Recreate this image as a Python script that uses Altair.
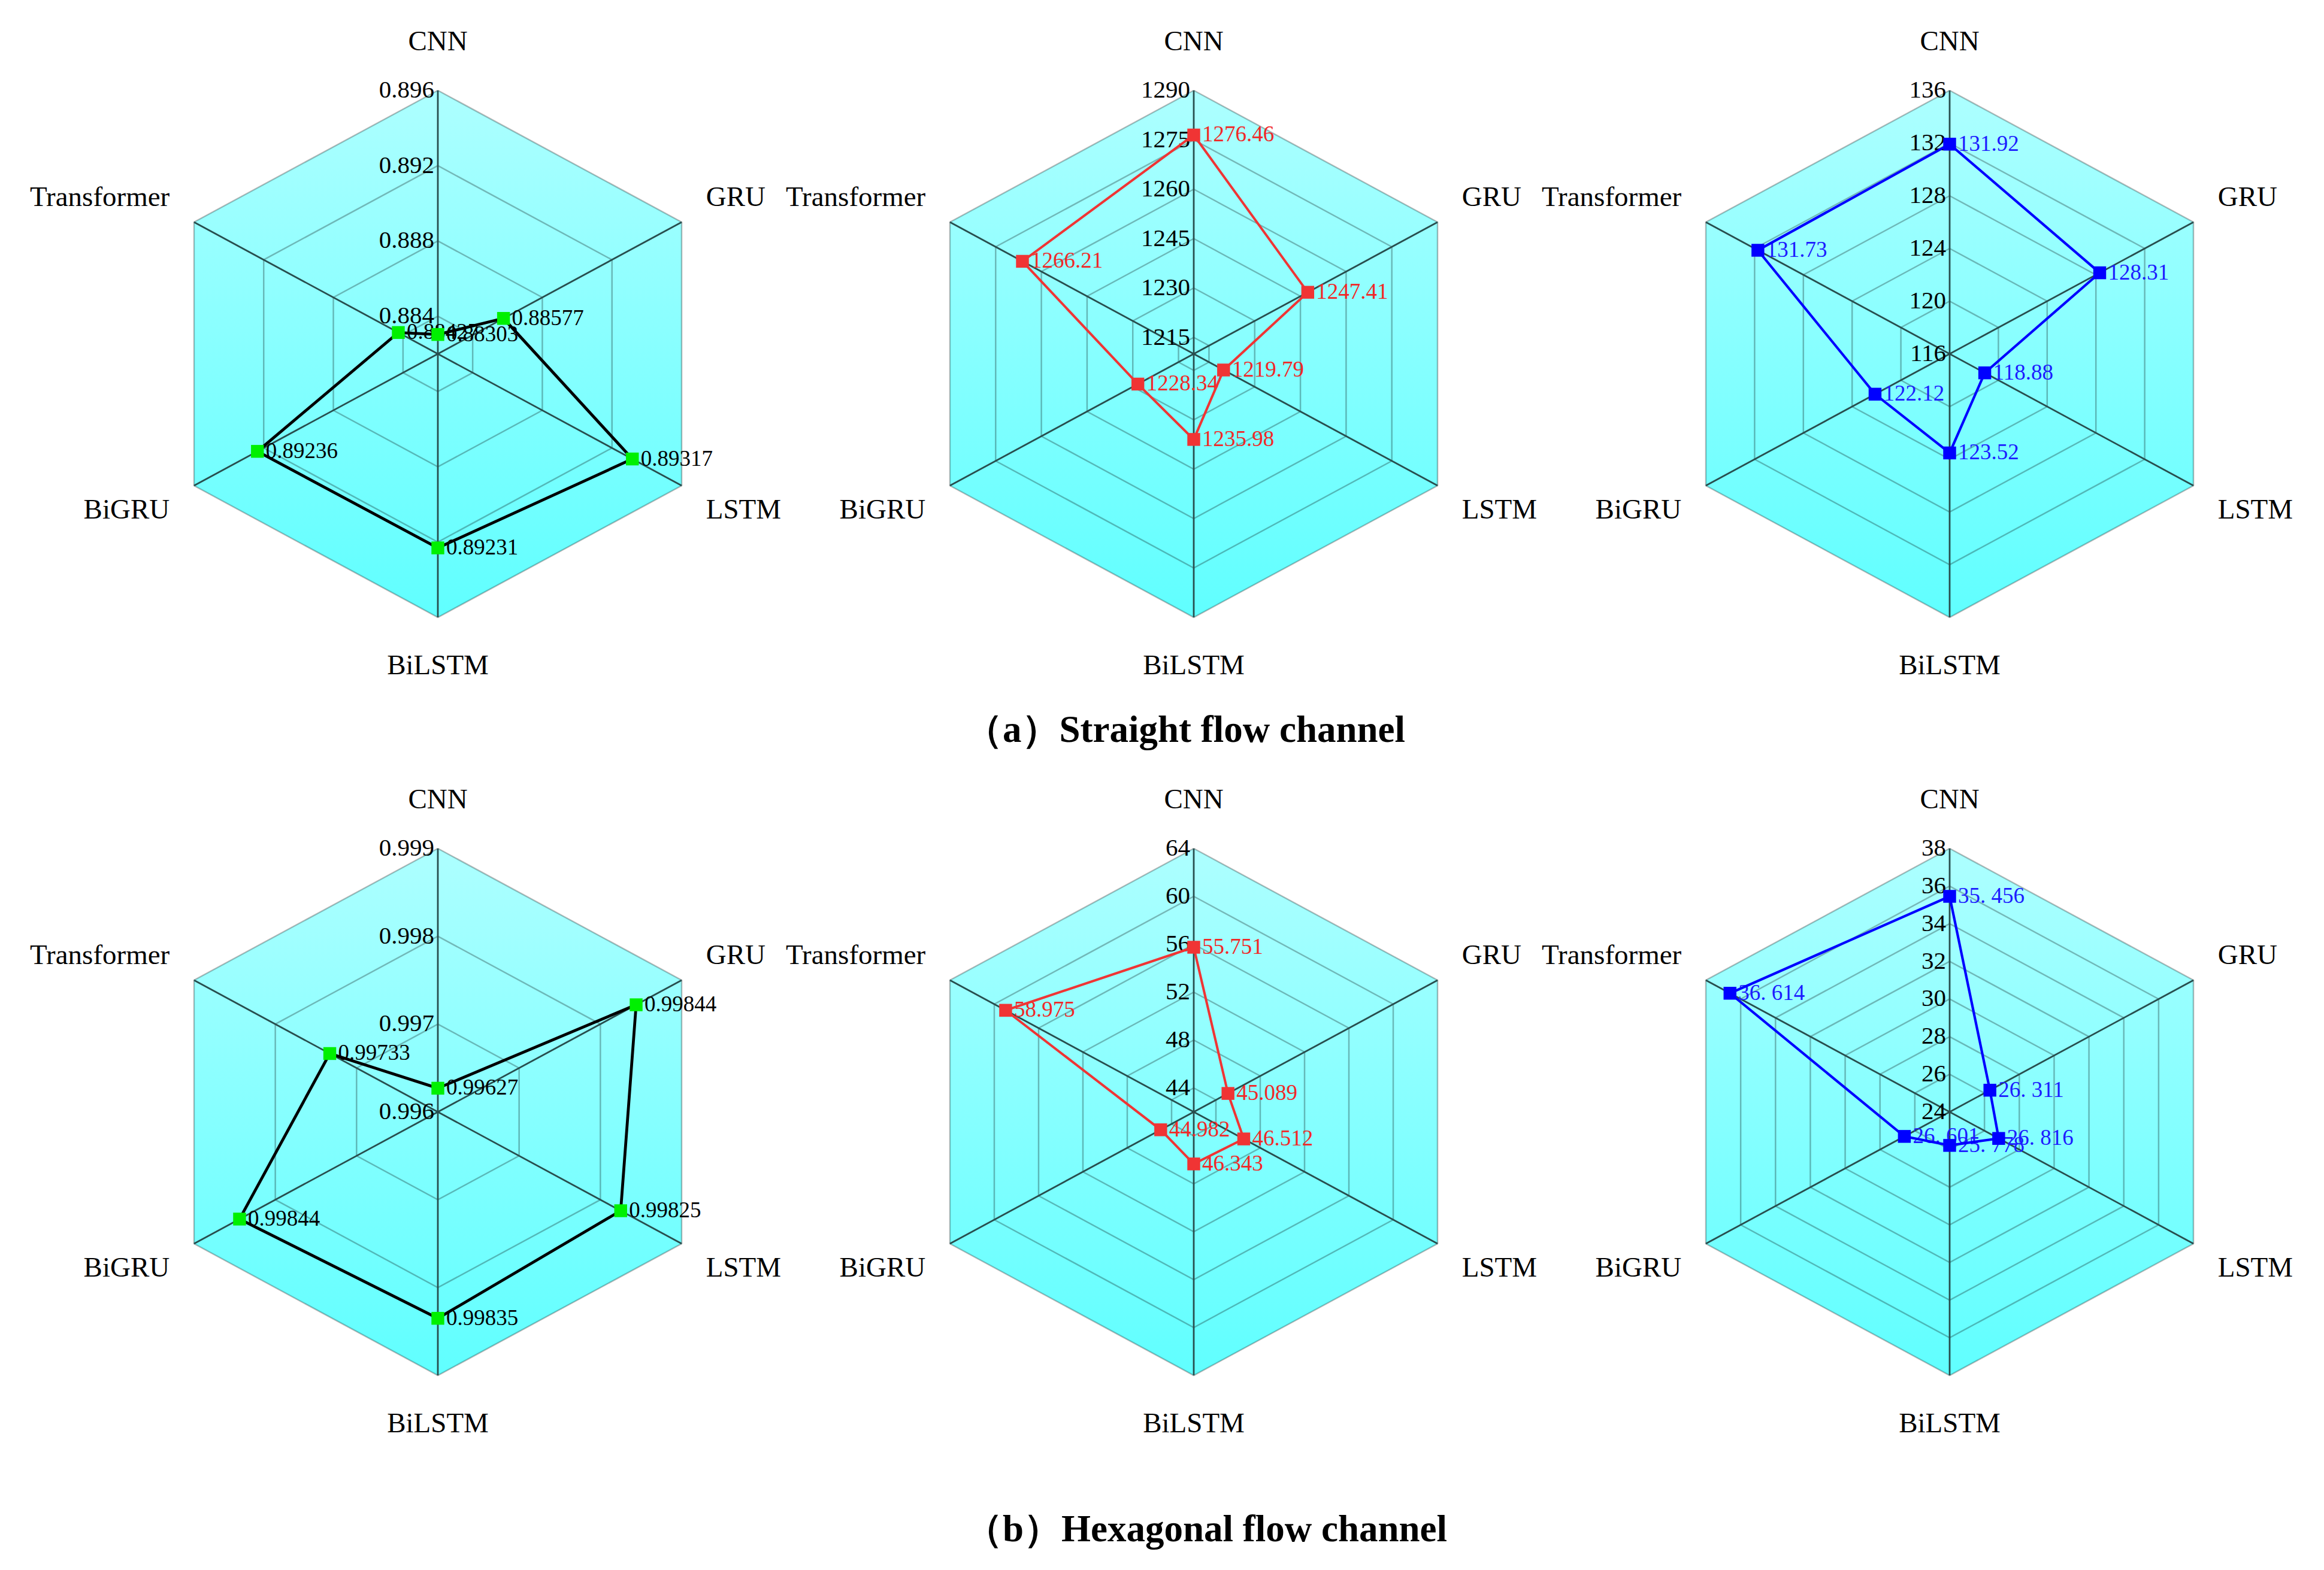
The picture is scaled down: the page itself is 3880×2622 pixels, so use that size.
import altair as alt
import pandas as pd

MODELS = ["CNN", "GRU", "LSTM", "BiLSTM", "BiGRU", "Transformer"]

# (a) Straight flow channel
A1_TICKS = [0.884, 0.888, 0.892, 0.896]
A1_MIN = 0.882
A1_VALUES = [0.88303, 0.88577, 0.89317, 0.89231, 0.89236, 0.88427]

A2_TICKS = [1215, 1230, 1245, 1260, 1275, 1290]
A2_MIN = 1210
A2_VALUES = [1276.46, 1247.41, 1219.79, 1235.98, 1228.34, 1266.21]

A3_TICKS = [116, 120, 124, 128, 132, 136]
A3_MIN = 116
A3_VALUES = [131.92, 128.31, 118.88, 123.52, 122.12, 131.73]

# (b) Hexagonal flow channel
B1_TICKS = [0.996, 0.997, 0.998, 0.999]
B1_MIN = 0.996
B1_VALUES = [0.99627, 0.99844, 0.99825, 0.99835, 0.99844, 0.99733]

B2_TICKS = [44, 48, 52, 56, 60, 64]
B2_MIN = 42
B2_VALUES = [55.751, 45.089, 46.512, 46.343, 44.982, 58.975]

B3_TICKS = [24, 26, 28, 30, 32, 34, 36, 38]
B3_MIN = 24
B3_VALUES = [35.456, 26.311, 26.816, 25.778, 26.601, 36.614]

TITLE_A = "（a）Straight flow channel"
TITLE_B = "（b）Hexagonal flow channel"

SERIF = "Liberation Serif"

PW, PH = 1262, 1100
XPX, YPX = 470.0, 440.0
XD = [-686 / XPX, 576 / XPX]
YD = [-(PH / 2) / YPX, (PH / 2) / YPX]

GRAD = alt.Gradient(
    gradient="linear",
    stops=[alt.GradientStop(offset=0, color="#adffff"),
           alt.GradientStop(offset=1, color="#60ffff")],
    x1=0, x2=0, y1=0, y2=1,
)


def X(f):
    return alt.X(f"{f}:Q", scale=alt.Scale(domain=XD, nice=False, zero=False), axis=None)


def Y(f):
    return alt.Y(f"{f}:Q", scale=alt.Scale(domain=YD, nice=False, zero=False), axis=None)


def panel(ticks, lo, values, tick_fmt, val_fmt, line_color, line_w, marker_color, text_color, spaced=False):
    hi = ticks[-1]
    span = hi - lo
    ang = "datum.k*PI/3"

    hexdf = pd.DataFrame({"s": [-1, 0, 1]})
    fill = alt.Chart(hexdf).transform_calculate(
        x="datum.s*sin(PI/3)", y="cos(datum.s*PI/3)", y2="-cos(datum.s*PI/3)"
    ).mark_area(color=GRAD).encode(x=X("x"), y=Y("y"), y2=alt.Y2("y2:Q"))

    ring_df = pd.DataFrame([(t, k) for t in ticks if t > lo for k in range(7)], columns=["t", "k"])
    rings = alt.Chart(ring_df).transform_calculate(
        f=f"(datum.t - ({lo})) / ({span})"
    ).transform_calculate(
        x=f"datum.f*sin({ang})", y=f"datum.f*cos({ang})"
    ).mark_line(color="black", opacity=0.28, strokeWidth=2.5).encode(
        x=X("x"), y=Y("y"), detail="t:N", order="k:Q"
    )

    spoke_df = pd.DataFrame({"k": list(range(6))})
    spokes = alt.Chart(spoke_df).transform_calculate(
        x0="0", y0="0", x1=f"sin({ang})", y1=f"cos({ang})"
    ).mark_rule(color="#284e4e", strokeWidth=2.8).encode(
        x=X("x0"), y=Y("y0"), x2=alt.X2("x1:Q"), y2=alt.Y2("y1:Q")
    )

    tick_df = pd.DataFrame({"t": ticks})
    tick_labels = alt.Chart(tick_df).transform_calculate(
        f=f"(datum.t - ({lo})) / ({span})", x0="0"
    ).mark_text(align="right", baseline="middle", dx=-6, font=SERIF, fontSize=41, color="black").encode(
        x=X("x0"), y=Y("f"), text=alt.Text("t:Q", format=tick_fmt)
    )

    cat_df = pd.DataFrame({"model": MODELS, "k": list(range(6))})
    cat_base = alt.Chart(cat_df).transform_calculate(
        x=f"1.1*sin({ang})", y=f"1.185*cos({ang})", sx=f"sin({ang})"
    )
    cat_kw = dict(baseline="middle", font=SERIF, fontSize=47, color="black")
    cats = [
        cat_base.transform_filter("abs(datum.sx) < 0.1").mark_text(align="center", **cat_kw).encode(
            x=X("x"), y=Y("y"), text="model:N"),
        cat_base.transform_filter("datum.sx >= 0.1").mark_text(align="left", **cat_kw).encode(
            x=X("x"), y=Y("y"), text="model:N"),
        cat_base.transform_filter("datum.sx <= -0.1").mark_text(align="right", **cat_kw).encode(
            x=X("x"), y=Y("y"), text="model:N"),
    ]

    labels = [format(v, val_fmt) for v in values]
    if spaced:
        labels = [s.replace(".", ". ") for s in labels]
    df = pd.DataFrame({"model": MODELS, "v": values, "k": list(range(6)), "label": labels})
    line_df = pd.concat([df, df.iloc[[0]].assign(k=6)], ignore_index=True)

    def prep(d):
        return alt.Chart(d).transform_calculate(
            f=f"(datum.v - ({lo})) / ({span})"
        ).transform_calculate(
            x=f"datum.f*sin({ang})", y=f"datum.f*cos({ang})"
        )

    line = prep(line_df).mark_line(color=line_color, strokeWidth=line_w).encode(
        x=X("x"), y=Y("y"), order="k:Q")
    pts = prep(df).mark_square(size=460, color=marker_color, opacity=1).encode(x=X("x"), y=Y("y"))
    vlabels = prep(df).mark_text(align="left", baseline="middle", dx=14, font=SERIF, fontSize=37,
                                 color=text_color).encode(x=X("x"), y=Y("y"), text="label:N")

    return alt.layer(fill, rings, spokes, tick_labels, *cats, vlabels, line, pts).properties(
        width=PW, height=PH)


def title_chart(text, h, y):
    return alt.Chart(pd.DataFrame({"t": [text]})).mark_text(
        align="left", baseline="middle", font=SERIF, fontSize=63, fontWeight="bold", color="black"
    ).encode(x=alt.value(1566), y=alt.value(y), text="t:N").properties(width=3 * PW, height=h)


GREEN, RED, BLUE = "#00f000", "#f03434", "#0000ff"

row_a = alt.hconcat(
    panel(A1_TICKS, A1_MIN, A1_VALUES, ".3f", ".5f", "black", 4.8, GREEN, "black"),
    panel(A2_TICKS, A2_MIN, A2_VALUES, "d", ".2f", RED, 4, RED, "#f02828"),
    panel(A3_TICKS, A3_MIN, A3_VALUES, "d", ".2f", BLUE, 4.2, BLUE, "#1c1cff"),
    spacing=0, bounds="flush",
)
row_b = alt.hconcat(
    panel(B1_TICKS, B1_MIN, B1_VALUES, ".3f", ".5f", "black", 4.8, GREEN, "black"),
    panel(B2_TICKS, B2_MIN, B2_VALUES, "d", ".3f", RED, 4, RED, "#f02828"),
    panel(B3_TICKS, B3_MIN, B3_VALUES, "d", ".3f", BLUE, 4.2, BLUE, "#1c1cff", spaced=True),
    spacing=0, bounds="flush",
)

chart = alt.vconcat(
    row_a, title_chart(TITLE_A, 162, 77), row_b, title_chart(TITLE_B, 212, 146),
    spacing=0,
).properties(
    padding={"left": 36, "top": 32, "right": 0, "bottom": 0},
    background="white",
).configure_view(stroke="transparent")

chart.save("out.html", embed_options={"renderer": "svg", "actions": False})
